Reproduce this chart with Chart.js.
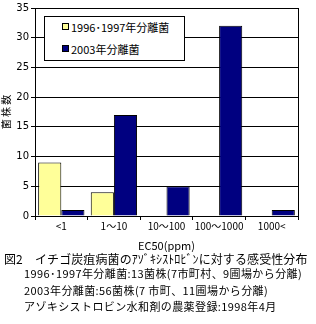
<!DOCTYPE html>
<html>
<head>
<meta charset="utf-8">
<script src="https://cdn.jsdelivr.net/npm/chart.js@4"></script>
<style>
  body { margin: 0; background: #fff; }
  #wrap { position: relative; width: 316px; height: 324px; font-family: "Noto Sans CJK JP", sans-serif; color: #000; }
  #chart-box { position: absolute; left: 0; top: 0; width: 316px; height: 252px; }
  #legend { position: absolute; left: 44px; top: 16px; width: 139px; height: 43px; border: 1px solid #000; background: #fff; font-size: 11px; }
  #legend div { position: absolute; left: 17px; white-space: nowrap; line-height: 14px; }
  #legend span.sw { display: inline-block; width: 5px; height: 5px; border: 1px solid #000; margin-right: 2px; vertical-align: 2px; }
  #caption { position: absolute; left: 4px; top: 250px; font-size: 12px; white-space: nowrap; letter-spacing: 0.1px; }
  .note { position: absolute; left: 24px; font-size: 11px; white-space: nowrap; letter-spacing: 0.4px; }
</style>
</head>
<body>
<div id="wrap">
  <div id="chart-box"><canvas id="c"></canvas></div>
  <div id="legend"></div>
  <div id="caption">図2　イチゴ炭疽病菌のｱｿﾞｷｼｽﾄﾛﾋﾞﾝに対する感受性分布</div>
  <div class="note" style="top:265px">1996･1997年分離菌:13菌株(7市町村、9圃場から分離)</div>
  <div class="note" style="top:282px">2003年分離菌:56菌株(7 市町、11圃場から分離)</div>
  <div class="note" style="top:298px">アゾキシストロビン水和剤の農薬登録:1998年4月</div>
</div>
<script>
const categories = ['<1', '1～10', '10～100', '100～1000', '1000<'];
const series1996 = [9, 4, 0, 0, 0];
const series2003 = [1, 17, 5, 32, 1];
const seriesNames = ['1996･1997年分離菌', '2003年分離菌'];
const yTicks = [0, 5, 10, 15, 20, 25, 30, 35];

const colors = ['#ffff99', '#000080'];

// frame round the plot area
const frame = {
  id: 'frame',
  afterDraw(chart) {
    const a = chart.chartArea, ctx = chart.ctx;
    ctx.save();
    ctx.strokeStyle = '#000';
    ctx.lineWidth = 1;
    ctx.strokeRect(Math.round(a.left) + 0.5, Math.round(a.top) + 0.5, Math.round(a.right - a.left), Math.round(a.bottom - a.top));
    ctx.restore();
  }
};

const canvas = document.getElementById('c');
canvas.width = 316; canvas.height = 252;

const chart = new Chart(canvas.getContext('2d'), {
  type: 'bar',
  data: {
    labels: categories,
    datasets: [
      { label: seriesNames[0], data: series1996, backgroundColor: colors[0], borderColor: '#000', borderWidth: 1 },
      { label: seriesNames[1], data: series2003, backgroundColor: colors[1], borderColor: '#000', borderWidth: 1 }
    ]
  },
  options: {
    responsive: false,
    animation: false,
    layout: { padding: { top: 7, right: 18, left: 0, bottom: 0 } },
    datasets: { bar: { categoryPercentage: 0.88, barPercentage: 1 } },
    plugins: { legend: { display: false }, tooltip: { enabled: false } },
    scales: {
      x: {
        grid: { offset: true, drawOnChartArea: false, color: '#000', tickLength: 4 },
        border: { color: '#000' },
        ticks: { color: '#000', font: { family: 'Noto Sans CJK JP', size: 10 }, padding: 0, maxRotation: 0 },
        title: { display: true, text: 'EC50(ppm)', color: '#000', font: { family: 'Noto Sans CJK JP', size: 11 }, padding: { top: 0, bottom: 0 } },
        afterFit: s => { s.height = 36; }
      },
      y: {
        min: 0, max: 35,
        afterBuildTicks: s => { s.ticks = yTicks.map(v => ({ value: v })); },
        grid: { color: '#000', tickLength: 4 },
        border: { color: '#000' },
        ticks: { color: '#000', font: { family: 'DejaVu Sans', size: 10 }, padding: 2 },
        title: { display: true, text: '菌 株 数', color: '#000', font: { family: 'Noto Sans CJK JP', size: 10 }, padding: 0 },
        afterFit: s => { s.width = 35; }
      }
    }
  },
  plugins: [frame]
});

// legend box from the datasets
const legend = document.getElementById('legend');
chart.data.datasets.forEach((ds, i) => {
  const row = document.createElement('div');
  row.style.top = (3 + i * 22) + 'px';
  row.innerHTML = `<span class="sw" style="background:${ds.backgroundColor}"></span>${ds.label}`;
  legend.appendChild(row);
});
</script>
</body>
</html>
